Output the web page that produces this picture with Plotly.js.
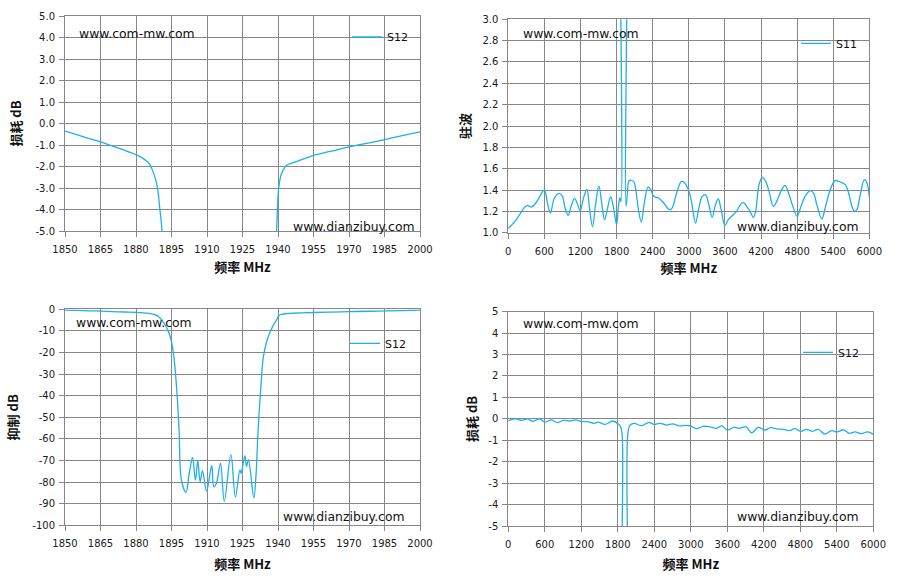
<!DOCTYPE html>
<html>
<head>
<meta charset="utf-8">
<script src="https://cdn.plot.ly/plotly-3.0.1.min.js"></script>
<style>html,body{margin:0;padding:0;background:#fff;}#chart{width:898px;height:578px;}</style>
</head>
<body>
<div id="chart"></div>
<script>
// ---- data: narrow-band sweep (1850-2000 MHz), S12 in dB ----
const freqNarrow = [1850,1855,1860,1865,1870,1875,1880,1883,1884.5,1885.5,1887.5,1889,1890,1891,1893.7,1895,1896,1897.2,1898.2,1899.2,1901.1,1902.5,1903.9,1905.1,1906.1,1907.1,1908.1,1909.8,1912.0,1912.9,1914.0,1915.7,1917.3,1920.1,1922.0,1923.9,1924.4,1926.0,1926.7,1927.5,1929.8,1930.7,1931.6,1932.7,1933.8,1935.2,1937.0,1938.5,1939.4,1940.3,1941.5,1943.7,1946.5,1950,1955,1962,1970,1978,1985,1992,2000];
const s12Narrow = [-0.35,-0.52,-0.69,-0.86,-1.05,-1.24,-1.45,-1.62,-1.75,-1.86,-2.33,-2.95,-3.9,-5.0,-10.3,-15,-22,-37,-55.6,-79.1,-84.8,-75.9,-68.6,-79.1,-70.0,-79.8,-74.7,-84.2,-72.3,-82.2,-80.5,-71.3,-88.9,-67.3,-86.9,-74.4,-75.9,-67.8,-72.8,-69.7,-87.3,-77,-55.6,-37,-22,-15,-9.6,-6.5,-5.0,-3.0,-2.33,-1.94,-1.82,-1.68,-1.48,-1.30,-1.09,-0.91,-0.75,-0.58,-0.39];

// ---- data: wide-band sweep (0-6000 MHz), S11 as VSWR ----
const freqS11 = [0,111,194,278,322,389,472,600,650,700,767,850,900,944,994,1044,1100,1144,1194,1250,1306,1350,1400,1450,1506,1556,1600,1650,1700,1750,1800,1833,1856,1874,1887,1932,1956,1978,2011,2083,2122,2167,2211,2256,2322,2367,2417,2500,2583,2678,2722,2806,2878,2933,3000,3044,3111,3167,3222,3278,3333,3389,3444,3489,3533,3600,3656,3739,3794,3850,3906,3961,4017,4072,4111,4167,4222,4278,4333,4406,4461,4544,4600,4667,4739,4800,4856,4933,5017,5072,5128,5211,5267,5350,5433,5517,5600,5656,5711,5756,5794,5850,5917,5961,6000];
const vswrS11 = [1.04,1.106,1.175,1.244,1.253,1.241,1.29,1.40,1.28,1.184,1.325,1.369,1.34,1.231,1.162,1.247,1.322,1.278,1.206,1.325,1.406,1.231,1.056,1.263,1.438,1.263,1.122,1.231,1.338,1.231,1.075,1.263,1.331,1.29,12,12,1.247,1.356,1.488,1.481,1.388,1.2,1.1,1.263,1.428,1.403,1.341,1.325,1.278,1.216,1.231,1.388,1.481,1.466,1.394,1.294,1.091,1.231,1.34,1.356,1.263,1.144,1.263,1.316,1.231,1.066,1.122,1.169,1.20,1.256,1.284,1.247,1.20,1.144,1.20,1.45,1.519,1.481,1.388,1.247,1.294,1.403,1.444,1.356,1.231,1.153,1.231,1.34,1.394,1.372,1.263,1.128,1.231,1.403,1.488,1.475,1.45,1.372,1.247,1.20,1.216,1.356,1.497,1.466,1.33];

// ---- data: wide-band sweep (0-6000 MHz), S12 in dB ----
const freqS21 = [0,82,137,219,312,400,510,603,712,805,904,1014,1112,1205,1299,1408,1479,1589,1715,1808,1846,1874,1890,1945,1961,2000,2071,2192,2312,2394,2493,2603,2701,2811,2904,2997,3096,3205,3315,3424,3507,3600,3709,3808,3906,4000,4109,4219,4312,4422,4520,4619,4712,4805,4904,5003,5096,5205,5315,5408,5507,5605,5698,5808,5901,6000];
const s21Wide = [-0.09,-0.01,0.0,-0.07,0.0,-0.12,0.0,-0.15,-0.05,-0.18,-0.07,-0.10,-0.05,-0.13,-0.13,-0.21,-0.15,-0.26,-0.10,-0.24,-0.37,-0.83,-25,-25,-0.83,-0.29,-0.21,-0.32,-0.16,-0.26,-0.21,-0.29,-0.23,-0.33,-0.30,-0.33,-0.46,-0.35,-0.37,-0.44,-0.33,-0.52,-0.40,-0.44,-0.37,-0.65,-0.40,-0.52,-0.41,-0.47,-0.49,-0.55,-0.46,-0.58,-0.49,-0.58,-0.49,-0.71,-0.55,-0.61,-0.51,-0.68,-0.61,-0.69,-0.61,-0.71];

// ---- tick values ----
const xTicksNarrow = [1850,1865,1880,1895,1910,1925,1940,1955,1970,1985,2000];
const xTicksWide = [0,600,1200,1800,2400,3000,3600,4200,4800,5400,6000];
const yTicksLoss = [5,4,3,2,1,0,-1,-2,-3,-4,-5];
const yTicksVswr = [1.0,1.2,1.4,1.6,1.8,2.0,2.2,2.4,2.6,2.8,3.0];
const yTicksRej = [0,-10,-20,-30,-40,-50,-60,-70,-80,-90,-100];
const yTicksLossWide = [5,4,3,2,1,0,-1,-2,-3,-4,-5];

const W = 898, H = 578;
const PX = p => p / W;
const PY = p => 1 - p / H;

const GRID = '#878787';
const LINE = '#1eb0ea';
const titleFont = {family: '"Noto Sans CJK SC", sans-serif', size: 13, color: '#111', weight: 'bold'};
const tickFont = {family: '"DejaVu Sans", sans-serif', size: 10, color: '#1a1a1a'};

function xAxis(domain, range, vals, anchor, standoff) {
  return {
    domain: domain, range: range, anchor: anchor,
    tickmode: 'array', tickvals: vals, ticktext: vals.map(v => String(v)),
    showgrid: true, gridcolor: GRID, gridwidth: 1,
    showline: true, linecolor: GRID, linewidth: 1, mirror: true,
    ticks: 'outside', ticklen: 5, tickcolor: GRID, tickwidth: 1,
    zeroline: false, tickfont: tickFont, ticklabelstandoff: 4,
    title: {text: '频率 MHz', font: titleFont, standoff: standoff},
    fixedrange: true
  };
}
function yAxis(domain, range, vals, labels, anchor, title, standoff) {
  return {
    domain: domain, range: range, anchor: anchor,
    tickmode: 'array', tickvals: vals, ticktext: labels,
    showgrid: true, gridcolor: GRID, gridwidth: 1,
    showline: true, linecolor: GRID, linewidth: 1, mirror: true,
    ticks: 'outside', ticklen: 5, tickcolor: GRID, tickwidth: 1,
    zeroline: false, tickfont: tickFont, ticklabelstandoff: 2,
    title: {text: title, font: titleFont, standoff: standoff},
    fixedrange: true
  };
}

const traceStyle = {mode: 'lines', line: {color: LINE, width: 1.3, shape: 'spline', smoothing: 1}, hoverinfo: 'skip'};

const data = [
  Object.assign({x: freqNarrow, y: s12Narrow, name: 'S12', xaxis: 'x', yaxis: 'y', legend: 'legend'}, JSON.parse(JSON.stringify(traceStyle))),
  Object.assign({x: freqS11, y: vswrS11, name: 'S11', xaxis: 'x2', yaxis: 'y2', legend: 'legend2'}, JSON.parse(JSON.stringify(traceStyle))),
  Object.assign({x: freqNarrow, y: s12Narrow, name: 'S12', xaxis: 'x3', yaxis: 'y3', legend: 'legend3'}, JSON.parse(JSON.stringify(traceStyle))),
  Object.assign({x: freqS21, y: s21Wide, name: 'S12', xaxis: 'x4', yaxis: 'y4', legend: 'legend4'}, JSON.parse(JSON.stringify(traceStyle)))
];

const legendBase = {bgcolor: 'rgba(0,0,0,0)', borderwidth: 0, font: {family: '"DejaVu Sans", sans-serif', size: 11, color: '#111'}, xanchor: 'left', yanchor: 'middle', itemclick: false, itemdoubleclick: false};

const wmFont = {family: '"DejaVu Sans", sans-serif', size: 12.4, color: '#111'};
function wm(text, px, py, anchor) {
  return {text: text, xref: 'paper', yref: 'paper', x: PX(px), y: PY(py), xanchor: anchor, yanchor: 'middle', showarrow: false, font: wmFont};
}
function whiteBox(x0, y0, x1, y1) {
  return {type: 'rect', xref: 'paper', yref: 'paper', x0: PX(x0), x1: PX(x1), y0: PY(y1), y1: PY(y0), fillcolor: '#ffffff', line: {width: 0}, layer: 'between'};
}

const layout = {
  width: W, height: H,
  margin: {l: 0, r: 0, t: 0, b: 0},
  paper_bgcolor: '#ffffff', plot_bgcolor: '#ffffff',
  font: {family: '"DejaVu Sans", sans-serif', size: 10, color: '#1a1a1a'},
  showlegend: true,
  xaxis: xAxis([PX(65), PX(420)], [1850, 2000], xTicksNarrow, 'y', 8),
  yaxis: yAxis([PY(231), PY(16)], [-5, 5], yTicksLoss, yTicksLoss.map(v => v.toFixed(1)), 'x', '损耗 dB', 10),
  xaxis2: xAxis([PX(508.3), PX(869.3)], [0, 6000], xTicksWide, 'y2', 8),
  yaxis2: yAxis([PY(232.7), PY(19.3)], [1, 3], yTicksVswr, yTicksVswr.map(v => v.toFixed(1)), 'x2', '驻波', 8),
  xaxis3: xAxis([PX(65), PX(420)], [1850, 2000], xTicksNarrow, 'y3', 11),
  yaxis3: yAxis([PY(525.3), PY(309.3)], [-100, 0], yTicksRej, yTicksRej.map(v => String(v)), 'x3', '抑制 dB', 10),
  xaxis4: xAxis([PX(508.3), PX(873.3)], [0, 6000], xTicksWide, 'y4', 10),
  yaxis4: yAxis([PY(526), PY(311.7)], [-5, 5], yTicksLossWide, yTicksLossWide.map(v => String(v)), 'x4', '损耗 dB', 7),
  legend: Object.assign({x: PX(347), y: PY(37)}, legendBase),
  legend2: Object.assign({x: PX(796), y: PY(43.3)}, legendBase),
  legend3: Object.assign({x: PX(345), y: PY(343.3)}, legendBase),
  legend4: Object.assign({x: PX(798), y: PY(352.3)}, legendBase),
  shapes: [
    whiteBox(350, 25, 409, 48),
    whiteBox(800, 22, 868, 61),
    whiteBox(348, 318, 408, 368),
    whiteBox(802, 317, 862, 376)
  ],
  annotations: [
    wm('www.com-mw.com', 77, 33.5, 'left'),
    wm('www.dianzibuy.com', 417, 226, 'right'),
    wm('www.com-mw.com', 521, 33.3, 'left'),
    wm('www.dianzibuy.com', 861, 226, 'right'),
    wm('www.com-mw.com', 74, 322.3, 'left'),
    wm('www.dianzibuy.com', 407.3, 516, 'right'),
    wm('www.com-mw.com', 521, 323.3, 'left'),
    wm('www.dianzibuy.com', 861, 516, 'right')
  ]
};

Plotly.newPlot('chart', data, layout, {displayModeBar: false, staticPlot: true});
</script>
</body>
</html>
